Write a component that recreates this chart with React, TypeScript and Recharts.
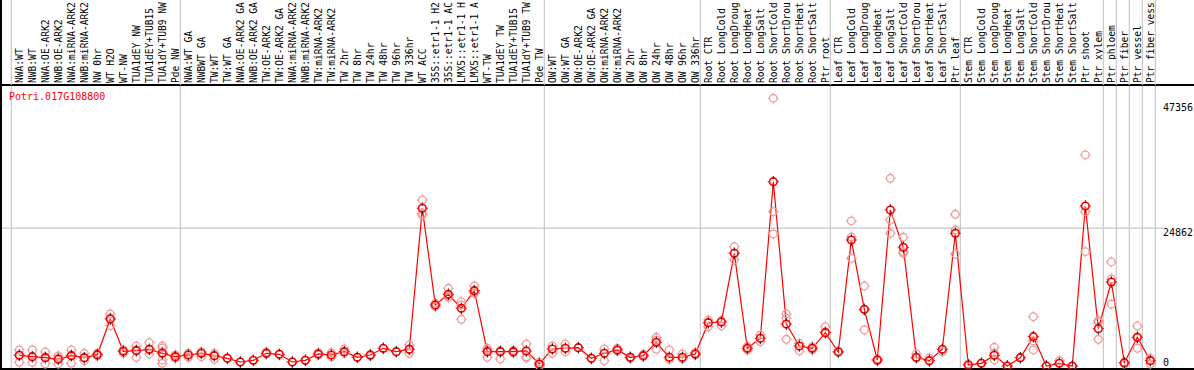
import { ComposedChart, Line, Scatter, XAxis, YAxis, ReferenceLine } from 'recharts';

const FONT = '"DejaVu Sans Mono", "Liberation Mono", monospace';

const geneName = 'Potri.017G108800';

// sample names as the header box shows them (cut at 14 characters)
const labels = [
  'NWA:WT', 'NWB:WT', 'NWA:OE-ARK2', 'NWB:OE-ARK2', 'NWA:miRNA-ARK2', 'NWB:miRNA-ARK2', 'NW 0hr', 'WT H2O', 'WT-NW',
  'TUA1dEY NW', 'TUA1dEY+TUB15', 'TUA1dY+TUB9 NW', 'Pde NW',
  'NWA:WT GA', 'NWBWT GA', 'TW:WT', 'TW:WT GA', 'NWA:OE-ARK2 GA', 'NWB:OE-ARK2 GA', 'TW:OE-ARK2', 'TW:OE-ARK2 GA',
  'NWA:miRNA-ARK2', 'NWB:miRNA-ARK2', 'TW:miRNA-ARK2', 'TW:miRNA-ARK2', 'TW 2hr', 'TW 8hr', 'TW 24hr', 'TW 48hr',
  'TW 96hr', 'TW 336hr', 'WT ACC', '35S::etr1-1 H2', '35S::etr1-1 AC', 'LMX5::etr1-1 H', 'LMX5::etr1-1 A',
  'WT-TW', 'TUA1dEY TW', 'TUA1dEY+TUB15', 'TUA1dY+TUB9 TW', 'Pde TW',
  'OW:WT', 'OW:WT GA', 'OW:OE-ARK2', 'OW:OE-ARK2 GA', 'OW:miRNA-ARK2', 'OW:miRNA-ARK2', 'OW 2hr', 'OW 8hr', 'OW 24hr',
  'OW 48hr', 'OW 96hr', 'OW 336hr',
  'Root CTR', 'Root LongCold', 'Root LongDroug', 'Root LongHeat', 'Root LongSalt', 'Root ShortCold',
  'Root ShortDrou', 'Root ShortHeat', 'Root ShortSalt', 'Ptr root',
  'Leaf CTR', 'Leaf LongCold', 'Leaf LongDroug', 'Leaf LongHeat', 'Leaf LongSalt', 'Leaf ShortCold',
  'Leaf ShortDrou', 'Leaf ShortHeat', 'Leaf ShortSalt', 'Ptr leaf',
  'Stem CTR', 'Stem LongCold', 'Stem LongDroug', 'Stem LongHeat', 'Stem LongSalt', 'Stem ShortCold',
  'Stem ShortDrou', 'Stem ShortHeat', 'Stem ShortSalt', 'Ptr shoot', 'Ptr xylem',
  'Ptr phloem', 'Ptr fiber', 'Ptr vessel', 'Ptr fiber vess',
];

// first sample of each experiment block (a grey separator sits just before it)
const groupStarts = [0, 13, 41, 53, 63, 73, 84, 85, 86, 87];

const means = [
  1960, 1710, 1530, 1240, 1890, 1530, 2070, 8500, 2680, 2790, 3040, 2320, 1710,
  2020, 2320, 1890, 1420, 760, 1060, 2320, 2140, 760, 1060, 2200, 2020, 2610, 1600, 2020, 3220, 2610, 3040,
  28420, 11020, 12940, 10420, 13590, 2610, 2610, 2610, 2740, 400,
  3100, 3220, 3330, 1420, 2320, 2920, 1600, 1890, 4300, 1600, 1600, 2200,
  7830, 7960, 20320, 3220, 5020, 33210, 7600, 3640, 3220, 6030,
  2560, 22720, 10240, 1120, 28120, 21400, 1600, 990, 3040, 23920,
  220, 520, 1960, 40, 1530, 5310, 40, 520, 20, 28840, 6750,
  15160, 630, 5200, 990,
];

const replicates: number[][] = [
  [2920, 2020, 700], [2920, 1660, 700], [2560, 1660, 400], [1840, 1480, 400], [2920, 2020, 520],
  [2320, 1480, 990], [2320, 2020, 1840], [9400, 8680, 7290], [2920, 2740, 2320], [3640, 2920, 1600],
  [4230, 2920, 2200], [3640, 3280, 2560, 1120, 520], [2020, 1420],
  [2320, 1600], [2610, 1710], [2320, 1240], [1480], [760], [1060], [2560, 2200], [2140], [760], [1060],
  [2380, 2020], [2430, 1660], [3100, 2320], [1600], [2110, 1840], [3220], [2610], [3820, 3010, 2320],
  [29920, 27520, 27220], [11320, 10710], [14020, 12640, 12400], [11610, 11020, 8440], [14440, 13360, 13090],
  [3220, 2920, 1600], [2830, 2610, 1300], [2830, 2380], [4000, 1710, 1480], [760, 40],
  [3640, 2320], [4000, 2560], [3330], [1420], [3100, 990], [3220, 2740], [1600, 1390], [2140, 1750],
  [5200, 4720, 3040], [2920, 1210], [2200, 1300], [2470, 2020],
  [8320, 7110], [8190, 7240], [21510, 20380, 19120], [3550, 2920], [5620, 4410], [48220, 27810, 23800],
  [9400, 8620, 4840], [4120, 2740], [3510, 2920], [7110, 6160],
  [2740, 2560], [26140, 23260, 19420], [14440, 10120, 6520], [1300, 940], [33820, 26320, 23920],
  [23200, 20610, 20320], [2200, 1420], [1480], [2610], [27340, 24520, 20200],
  [400], [580], [3400, 2380, 1120], [40], [1530], [8910, 4540, 2920], [40], [990], [20],
  [38020, 27810, 20610], [8190, 7960, 4840],
  [18760, 15700, 11160], [630, 400], [7240, 5080, 3220], [1420, 400],
];

const valueTicks = [0, 24862, 47356];

const meanRows = means.map((m, i) => ({ x: i, mean: m }));
const repRows = replicates.flatMap((vals, i) => vals.map((v) => ({ x: i, v })));

const X_DOMAIN: [number, number] = [-1.3308, 90.36];
const Y_DOMAIN: [number, number] = [-504, 50616];
const GRID = '#c8c8c8';

function HeaderTick(props: any) {
  const { x, y, payload } = props;
  const i = payload.value as number;
  const tx = x + 4;
  const ty = y - 2;
  return (
    <g>
      {groupStarts.includes(i) && <line x1={x - 8} y1={0} x2={x - 8} y2={y} stroke={GRID} strokeWidth={1.2} />}
      {i === labels.length - 1 && <line x1={x + 5} y1={0} x2={x + 5} y2={y} stroke={GRID} strokeWidth={1.2} />}
      <text x={tx} y={ty} transform={`rotate(-90 ${tx} ${ty})`} fontSize={9.6} fontFamily={FONT} fill="#000">
        {labels[i]}
      </text>
    </g>
  );
}

function ValueTick(props: any) {
  const { x, y, payload } = props;
  const v = payload.value as number;
  return (
    <text x={x - 31} y={v === 0 ? y : y + 7.5} fontSize={10} fontFamily={FONT} fill="#000">
      {v}
    </text>
  );
}

function MeanDot(props: any) {
  const { cx, cy, index } = props;
  if (cx == null || cy == null) return <g key={`m${index}`} />;
  return (
    <g key={`m${index}`}>
      <circle cx={cx} cy={cy} r={3.8} fill="none" stroke="#ff0000" strokeWidth={1.6} />
      <line x1={cx} y1={cy - 5.8} x2={cx} y2={cy - 3} stroke="#550000" strokeWidth={1} />
      <line x1={cx} y1={cy + 3} x2={cx} y2={cy + 5.8} stroke="#550000" strokeWidth={1} />
      <line x1={cx - 5.6} y1={cy} x2={cx - 4} y2={cy} stroke="#ff0000" strokeWidth={1} />
      <line x1={cx + 4} y1={cy} x2={cx + 5.6} y2={cy} stroke="#ff0000" strokeWidth={1} />
    </g>
  );
}

function RepDot(props: any) {
  const { cx, cy } = props;
  const c = '#f09a9a';
  return (
    <g>
      <circle cx={cx} cy={cy} r={3.8} fill="none" stroke={c} strokeWidth={1.3} />
      <line x1={cx} y1={cy - 5.5} x2={cx} y2={cy - 4} stroke={c} strokeWidth={1} />
      <line x1={cx} y1={cy + 4} x2={cx} y2={cy + 5.5} stroke={c} strokeWidth={1} />
      <line x1={cx - 5.5} y1={cy} x2={cx - 4} y2={cy} stroke={c} strokeWidth={1} />
      <line x1={cx + 4} y1={cy} x2={cx + 5.5} y2={cy} stroke={c} strokeWidth={1} />
    </g>
  );
}

export default function App() {
  return (
    <div style={{ position: 'absolute', left: 0, top: 0, width: 1194, height: 370, background: '#fff', overflow: 'hidden' }}>
      <div style={{ position: 'absolute', left: 0, top: 0, borderLeft: '2px solid #000' }}>
        <ComposedChart width={1192} height={370} data={meanRows} margin={{ top: 0, right: 0, bottom: 0, left: 0 }}>
          <XAxis
            dataKey="x"
            type="number"
            orientation="top"
            domain={X_DOMAIN}
            allowDataOverflow
            ticks={labels.map((_, i) => i)}
            interval={0}
            height={85}
            tickSize={0}
            tickMargin={0}
            tickLine={false}
            axisLine={{ stroke: '#000', strokeWidth: 2 }}
            tick={<HeaderTick />}
          />
          <XAxis
            xAxisId="b"
            dataKey="x"
            type="number"
            orientation="bottom"
            domain={X_DOMAIN}
            allowDataOverflow
            height={1}
            tick={false}
            tickLine={false}
            axisLine={{ stroke: '#000', strokeWidth: 2 }}
          />
          <YAxis
            type="number"
            orientation="right"
            mirror
            width={31}
            domain={Y_DOMAIN}
            allowDataOverflow
            ticks={valueTicks}
            interval={0}
            tickSize={0}
            tickMargin={0}
            tickLine={false}
            axisLine={false}
            tick={<ValueTick />}
          />
          {groupStarts.concat([labels.length]).map((g) => (
            <ReferenceLine key={`g${g}`} x={g - 0.615} stroke={GRID} strokeWidth={1.2} ifOverflow="visible" />
          ))}
          <ReferenceLine
            segment={[{ x: X_DOMAIN[0], y: valueTicks[1] }, { x: 87.977, y: valueTicks[1] }]}
            stroke={GRID}
            strokeWidth={1.2}
            ifOverflow="visible"
          />
          <Scatter data={repRows} dataKey="v" shape={<RepDot />} isAnimationActive={false} />
          <Line
            dataKey="mean"
            stroke="#ff0000"
            strokeWidth={1.2}
            dot={MeanDot}
            activeDot={false}
            isAnimationActive={false}
          />
        </ComposedChart>
      </div>
      <div
        style={{
          position: 'absolute',
          left: 9,
          top: 91.5,
          fontFamily: FONT,
          fontSize: 10,
          lineHeight: '10px',
          color: '#ff0000',
          whiteSpace: 'nowrap',
        }}
      >
        {geneName}
      </div>
    </div>
  );
}
